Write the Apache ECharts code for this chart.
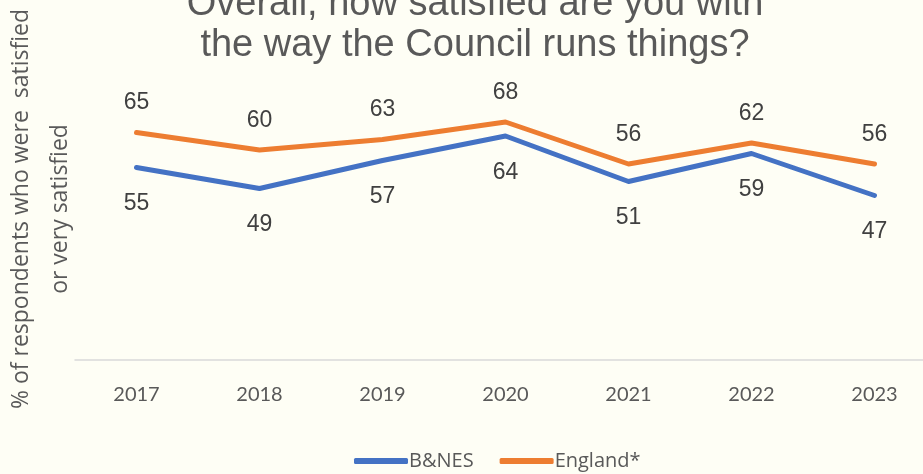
<!DOCTYPE html>
<html>
<head>
<meta charset="utf-8">
<script src="https://cdn.jsdelivr.net/npm/echarts@6/dist/echarts.min.js"></script>
<style>
  html, body { margin: 0; padding: 0; background: #fefef5; overflow: hidden; }
  /* plot runs a little past the right edge of the window */
  #chart { width: 936px; height: 474px; }
</style>
</head>
<body>
<div id="chart"></div>
<script>
// Survey years and share of respondents satisfied (%)
var years = ['2017', '2018', '2019', '2020', '2021', '2022', '2023'];
var bnes = [55, 49, 57, 64, 51, 59, 47];
var england = [65, 60, 63, 68, 56, 62, 56];

var titleText = 'Overall, how satisfied are you with\nthe way the Council runs things?';
var yTitle = '% of respondents who were  satisfied\nor very satisfied';

var chart = echarts.init(document.getElementById('chart'), null, { renderer: 'canvas' });

function lineSeries(name, values, color, pos, dist) {
  return {
    name: name,
    type: 'line',
    data: values,
    color: color,
    symbol: 'circle',
    symbolSize: 0,
    showSymbol: true,
    itemStyle: { color: color },
    lineStyle: { width: 5, color: color, cap: 'round', join: 'round' },
    label: {
      show: true,
      position: pos,
      distance: dist,
      fontFamily: 'Liberation Sans, Arial, sans-serif',
      fontSize: 23,
      color: '#404040'
    },
    emphasis: { disabled: true }
  };
}

chart.setOption({
  backgroundColor: '#fefef5',
  animation: false,
  title: {
    text: titleText,
    left: 470,
    top: -21,
    textAlign: 'center',
    textStyle: {
      fontFamily: 'Liberation Sans, Arial, sans-serif',
      fontSize: 38,
      fontWeight: 'normal',
      color: '#595959',
      lineHeight: 41
    }
  },
  grid: { left: 75, right: 0, top: 10, bottom: 114, containLabel: false },
  legend: {
    bottom: -2,
    left: 349,
    itemWidth: 54,
    itemHeight: 6,
    itemGap: 26,
    icon: 'roundRect',
    textStyle: { fontFamily: 'Open Sans, sans-serif', fontSize: 20, color: '#595959', padding: [0, 0, 0, -4] },
    data: ['B&NES', 'England*']
  },
  graphic: [{
    type: 'text',
    x: 41,
    y: 209,
    rotation: Math.PI / 2,
    style: {
      text: yTitle,
      align: 'center',
      verticalAlign: 'middle',
      fontFamily: 'Open Sans, sans-serif',
      fontSize: 23,
      lineHeight: 39,
      fill: '#595959'
    }
  }],
  xAxis: {
    type: 'category',
    data: years,
    boundaryGap: true,
    axisLine: { show: true, lineStyle: { color: '#d9d9d9', width: 1.5 } },
    axisTick: { show: false },
    axisLabel: { margin: 25, fontFamily: 'Lato, sans-serif', fontSize: 20, color: '#595959' }
  },
  yAxis: {
    type: 'value',
    min: 0,
    max: 100,
    axisLine: { show: false },
    axisTick: { show: false },
    axisLabel: { show: false },
    splitLine: { show: false }
  },
  series: [
    lineSeries('B&NES', bnes, '#4472C4', 'bottom', 25),
    lineSeries('England*', england, '#ED7D31', 'top', 18)
  ]
});
</script>
</body>
</html>
